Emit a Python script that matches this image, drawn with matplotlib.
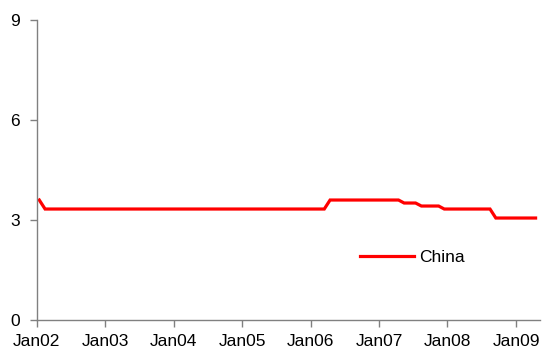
import matplotlib
matplotlib.use("Agg")
import matplotlib.pyplot as plt
import pandas as pd

plt.rcParams['font.family'] = ['Liberation Sans', 'DejaVu Sans']

# China: vertices of the monthly series (value held constant between them)
months = ["2002-01", "2002-02", "2006-03", "2006-04", "2007-04", "2007-05",
          "2007-07", "2007-08", "2007-11", "2007-12", "2008-08", "2008-09",
          "2009-04"]
china = [3.60, 3.33, 3.33, 3.60, 3.60, 3.51,
         3.51, 3.42, 3.42, 3.33, 3.33, 3.06,
         3.06]
series_name = "China"
years = list(range(2002, 2010))
yticks = [0, 3, 6, 9]

dates = pd.to_datetime([m + "-15" for m in months])

fig = plt.figure(figsize=(5.47, 3.5), dpi=100)
ax = fig.add_axes([0.067, 0.0857, 0.92, 0.857])

ax.plot(dates, china, color="#ff0000", lw=2.3, label=series_name,
        solid_joinstyle="miter")

ax.set_ylim(0, 9)
ax.set_yticks(yticks)
ax.set_xlim(pd.Timestamp("2002-01-01"), pd.Timestamp("2009-05-08"))
ticks = [pd.Timestamp(f"{y}-01-01") for y in years]
ax.set_xticks(ticks)
ax.set_xticklabels([f"Jan{str(y)[2:]}" for y in years])

for s in ["top", "right"]:
    ax.spines[s].set_visible(False)
for s in ["left", "bottom"]:
    ax.spines[s].set_color("#808080")
    ax.spines[s].set_linewidth(1.0)

ax.tick_params(axis="both", direction="out", length=5, width=1.0,
               color="#808080", labelsize=12.5, labelcolor="black")
ax.tick_params(axis="x", pad=5)
ax.tick_params(axis="y", pad=7)

ax.legend(loc="center left", bbox_to_anchor=(0.642, 0.208), frameon=False,
          handlelength=3.1, handletextpad=0.3, borderpad=0, borderaxespad=0,
          fontsize=12.5)

fig.savefig("out.png", dpi=100)
